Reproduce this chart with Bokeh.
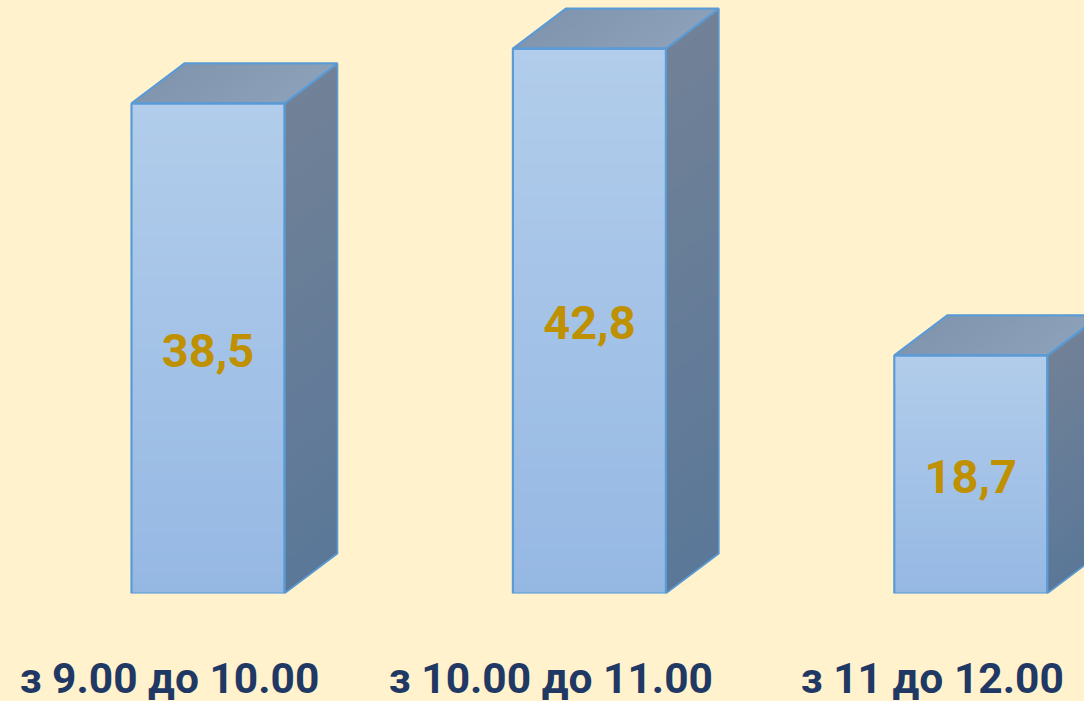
from bokeh.plotting import figure
from bokeh.models import FixedTicker, Range1d, ColumnDataSource
from bokeh.core.properties import value
from bokeh.embed import file_html
from bokeh.resources import INLINE

categories = ["з 9.00 до 10.00", "з 10.00 до 11.00", "з 11 до 12.00"]
values = [38.5, 42.8, 18.7]
value_labels = ["38,5", "42,8", "18,7"]

BG = "#FFF2CC"
EDGE = "#5B9BD5"
W, H = 1084, 701
BASE_PX = 593
PX_PER_Y = 12.73
PX_PER_X = 381.4
CENTER0 = 169
BAR_OFF = 38.5 / PX_PER_X
BAR_W = 153 / PX_PER_X
DX = 53 / PX_PER_X
DY = 40 / PX_PER_Y


def lerp(c1, c2, t):
    a = [int(c1[i:i + 2], 16) for i in (1, 3, 5)]
    b = [int(c2[i:i + 2], 16) for i in (1, 3, 5)]
    return "#%02x%02x%02x" % tuple(round(a[k] + (b[k] - a[k]) * t) for k in range(3))


p = figure(width=W, height=H, output_backend="svg", toolbar_location=None,
           x_range=Range1d(-CENTER0 / PX_PER_X, (W - CENTER0) / PX_PER_X),
           y_range=Range1d(0, BASE_PX / PX_PER_Y),
           min_border_left=0, min_border_right=0, min_border_top=0,
           min_border_bottom=H - BASE_PX,
           background_fill_color=None, border_fill_color=BG, outline_line_color=None)
p.styles = {"position": "absolute", "left": "0px", "top": "0px", "background-color": BG}
p.grid.visible = False
p.yaxis.visible = False

ax = p.xaxis[0]
ax.ticker = FixedTicker(ticks=list(range(len(categories))))
ax.major_label_overrides = {i: c for i, c in enumerate(categories)}
ax.axis_line_color = None
ax.major_tick_line_color = None
ax.minor_tick_line_color = None
ax.major_tick_out = 0
ax.major_tick_in = 0
ax.major_label_standoff = 60
ax.major_label_text_font = "Roboto"
ax.major_label_text_font_style = "bold"
ax.major_label_text_font_size = "42.5px"
ax.major_label_text_color = "#1F3864"
ax.axis_label = " "
ax.axis_label_text_font_size = "1px"
ax.axis_label_standoff = -8

N = 48
for i, v in enumerate(values):
    x0 = i + BAR_OFF - BAR_W / 2
    x1 = x0 + BAR_W
    ys = [v * k / N for k in range(N + 1)]
    # front face gradient: each band paints over the ones before, so no seams show
    cols = [lerp("#95B8E3", "#B2CDEB", (k + .5) / N) for k in range(N)]
    p.quad(left=x0, right=x1, bottom=ys[:-1], top=v, fill_color=cols, line_color=None)
    # side face gradient
    sx, sy, sc = [], [], []
    for k in range(N):
        sx.append([x1, x1 + DX, x1 + DX, x1])
        sy.append([ys[k], ys[k] + DY, v + DY, v])
        sc.append(lerp("#5B7898", "#718197", (k + .5) / N))
    p.patches(sx, sy, fill_color=sc, line_color=None)
    # top face gradient
    M = 24
    tx, ty, tc = [], [], []
    for k in range(M):
        a = x0 + BAR_W * k / M
        tx.append([a, x1, x1 + DX, a + DX])
        ty.append([v, v, v + DY, v + DY])
        tc.append(lerp("#8196AE", "#8CA1B9", (k + .5) / M))
    p.patches(tx, ty, fill_color=tc, line_color=None)
    # outlines
    p.patch([x1, x1 + DX, x1 + DX, x1], [0, DY, v + DY, v], fill_color=None, line_color=EDGE, line_width=1.6)
    p.patch([x0, x1, x1 + DX, x0 + DX], [v, v, v + DY, v + DY], fill_color=None, line_color=EDGE, line_width=2.2)
    p.quad(left=x0, right=x1, bottom=0, top=v, fill_color=None, line_color=EDGE, line_width=2.2)

src = ColumnDataSource(dict(x=[i + BAR_OFF for i in range(len(values))],
                            y=[v / 2 - 0.15 for v in values], t=value_labels))
p.text("x", "y", text="t", source=src, text_align="center", text_baseline="middle",
       text_color="#BF9000", text_font=value("Roboto"), text_font_style="bold",
       text_font_size="47px")

open("out.html", "w").write(file_html(p, INLINE))
